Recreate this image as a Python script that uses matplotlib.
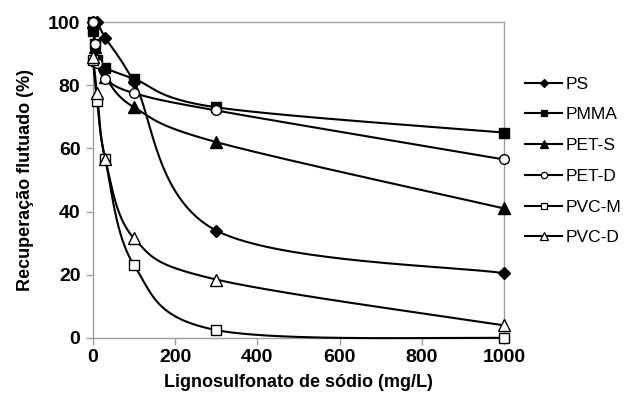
import numpy as np
import matplotlib
matplotlib.use("Agg")
import matplotlib.pyplot as plt
from matplotlib.lines import Line2D

plt.rcParams['font.family'] = ['Liberation Sans', 'DejaVu Sans']

series_names = ["PS", "PMMA", "PET-S", "PET-D", "PVC-M", "PVC-D"]
x_ps = [0, 10, 30, 100, 300, 1000]
y_ps = [100, 100, 95, 81, 34, 20.5]
x_pmma = [0, 1, 5, 10, 30, 100, 300, 1000]
y_pmma = [100, 97, 93, 88, 85.5, 82, 73, 65]
x_pets = [0, 5, 10, 30, 100, 300, 1000]
y_pets = [100, 92, 88, 82.5, 73, 62, 41]
x_petd = [0, 5, 10, 30, 100, 300, 1000]
y_petd = [100, 93, 87, 82, 77.5, 72, 56.5]
x_pvcm = [0, 10, 30, 100, 300, 1000]
y_pvcm = [88, 75, 56.5, 23, 2.5, 0]
x_pvcd = [0, 10, 30, 100, 300, 1000]
y_pvcd = [89, 77.5, 56.5, 31.5, 18.5, 4]

x_ticks = [0, 200, 400, 600, 800, 1000]
y_ticks = [0, 20, 40, 60, 80, 100]

fig = plt.figure(figsize=(6.30, 4.04), dpi=100)
ax = fig.add_axes([0.1476, 0.1634, 0.6524, 0.7821])
ax.set_xlim(0, 1000)
ax.set_ylim(0, 100)

# pixel scale of the axes for Excel-like smoothing
sx = 411.0 / 1000.0
sy = 316.0 / 100.0


def smooth(xs, ys, n=60):
    P = np.column_stack([np.asarray(xs, float) * sx, np.asarray(ys, float) * sy])
    out = []
    m = len(P)
    t = np.linspace(0, 1, n)[:, None]
    for i in range(m - 1):
        p0 = P[i - 1] if i > 0 else P[i]
        p3 = P[i + 2] if i + 2 < m else P[i + 1]
        b0 = P[i]
        b3 = P[i + 1]
        b1 = b0 + (b3 - p0) / 6.0
        b2 = b3 - (p3 - b0) / 6.0
        seg = ((1 - t) ** 3) * b0 + 3 * ((1 - t) ** 2) * t * b1 + 3 * (1 - t) * t ** 2 * b2 + t ** 3 * b3
        out.append(seg)
    pts = np.vstack(out)
    return pts[:, 0] / sx, pts[:, 1] / sy


data = [
    (x_ps, y_ps, dict(marker='D', mfc='black', ms=6)),
    (x_pmma, y_pmma, dict(marker='s', mfc='black', ms=7.5)),
    (x_pets, y_pets, dict(marker='^', mfc='black', ms=8)),
    (x_petd, y_petd, dict(marker='o', mfc='white', ms=7)),
    (x_pvcm, y_pvcm, dict(marker='s', mfc='white', ms=7.5)),
    (x_pvcd, y_pvcd, dict(marker='^', mfc='white', ms=8)),
]

handles = []
for (xs, ys, st), name in zip(data, series_names):
    sxs, sys_ = smooth(xs, ys)
    ax.plot(sxs, sys_, color='black', lw=1.5, clip_on=False, zorder=3)
    ax.plot(xs, ys, linestyle='none', color='black', mec='black', mew=1.0,
            clip_on=False, zorder=4, **st)
    st2 = dict(st)
    st2['ms'] = st['ms'] * 0.65
    handles.append(Line2D([0], [0], color='black', lw=1.5, mec='black', mew=0.9, **st2))

ax.set_xticks(x_ticks)
ax.set_yticks(y_ticks)
ax.set_xticklabels([str(v) for v in x_ticks], fontsize=14, fontweight='bold')
ax.set_yticklabels([str(v) for v in y_ticks], fontsize=14, fontweight='bold')
for sp in ax.spines.values():
    sp.set_color('#a0a0a0')
    sp.set_linewidth(1.0)
ax.tick_params(axis='both', direction='out', length=5, color='#a0a0a0', width=1.0)
ax.tick_params(axis='x', pad=3)
ax.tick_params(axis='y', pad=4)

ax.set_xlabel('Lignosulfonato de sódio (mg/L)', fontsize=13, fontweight='bold', labelpad=6)
ax.set_ylabel('Recuperação flutuado (%)', fontsize=13, fontweight='bold', labelpad=10)

fig.legend(handles, series_names, loc='upper left', bbox_to_anchor=(0.823, 0.828),
           frameon=False, fontsize=12.5, handlelength=2.1, handletextpad=0.2,
           labelspacing=0.9, borderaxespad=0)

fig.savefig('out.png', dpi=100)
